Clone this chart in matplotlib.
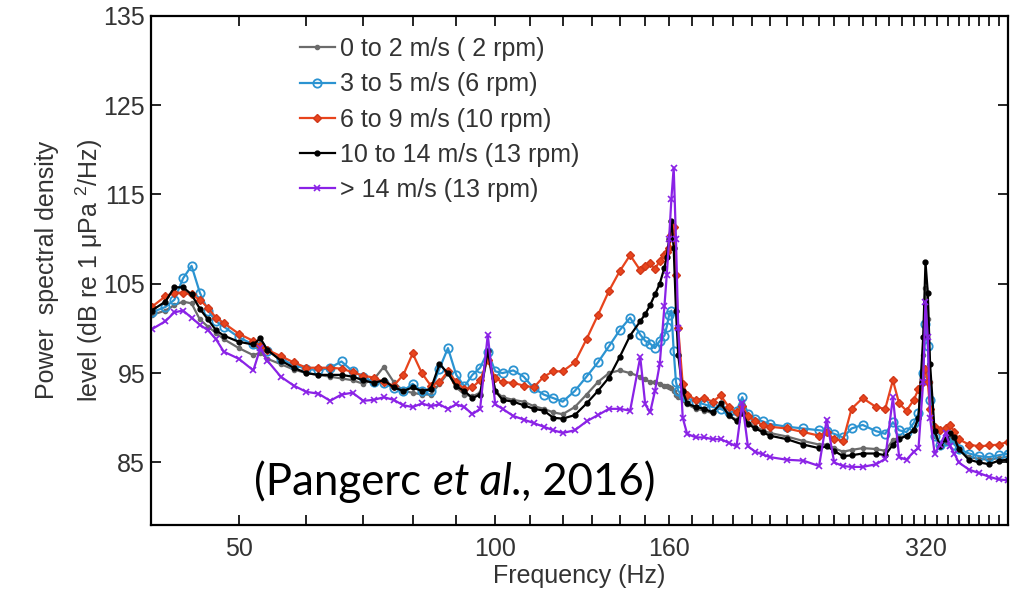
import matplotlib
matplotlib.use("Agg")
import matplotlib.pyplot as plt
from matplotlib.ticker import FixedLocator, FixedFormatter, NullFormatter
from matplotlib.offsetbox import TextArea, HPacker, AnchoredOffsetbox

plt.rcParams['font.family'] = ['Liberation Sans', 'DejaVu Sans']
plt.rcParams['mathtext.fontset'] = 'custom'
plt.rcParams['mathtext.rm'] = 'Liberation Sans'
plt.rcParams['mathtext.it'] = 'Liberation Sans:italic'

# ---------------- data ----------------
freq = [39.5, 41, 42, 43, 44, 45, 46, 47, 48, 50,
        52, 53, 54, 56, 58, 60, 62, 64, 66, 68,
        70, 72, 74, 76, 78, 80, 82, 84, 86, 88,
        90, 92, 94, 96, 98, 100, 102, 105, 108, 111,
        114, 117, 120, 124, 128, 132, 136, 140, 144, 148,
        150, 152, 154, 156, 158, 159, 160, 161, 162, 163,
        164, 166, 168, 172, 176, 180, 184, 188, 192, 195,
        198, 202, 206, 210, 220, 230, 240, 245, 250, 256,
        262, 270, 280, 287, 293, 298, 304, 310, 314, 318,
        320, 322, 324, 328, 333, 338, 342, 346, 350, 360,
        370, 380, 390, 400]

psd_0_2 = [101.5, 102.0, 102.6, 103.0, 102.8, 101.0, 100.2, 99.5, 98.8, 97.8,
           97.0, 97.3, 96.6, 96.0, 95.4, 95.0, 94.8, 94.6, 94.4, 94.2,
           93.8, 94.3, 95.7, 94.0, 93.0, 92.8, 92.6, 92.6, 93.8, 95.0,
           93.4, 92.6, 92.4, 92.8, 97.0, 93.0, 92.3, 92.0, 91.8, 91.3,
           91.0, 90.6, 90.4, 91.2, 92.6, 94.0, 95.0, 95.3, 95.0, 94.6,
           94.3, 94.0, 94.0, 93.8, 93.6, 93.5, 93.4, 93.3, 93.0, 92.6,
           92.3, 92.0, 91.5, 91.0, 90.8, 90.5, 91.2, 90.2, 89.8, 90.6,
           89.4, 89.0, 88.6, 88.3, 87.9, 87.4, 87.0, 87.0, 86.6, 86.2,
           86.4, 86.6, 86.5, 86.3, 87.5, 87.8, 88.0, 88.6, 90.0, 97.0,
           104.5, 101.0, 94.0, 88.0, 86.8, 87.3, 87.8, 87.4, 86.4, 85.6,
           85.4, 85.3, 85.5, 85.6]

psd_3_5 = [101.8, 102.4, 103.2, 105.6, 107.0, 104.0, 102.0, 100.8, 100.2, 99.0,
           98.2, 98.0, 97.5, 96.6, 95.9, 95.5, 95.3, 95.6, 96.3, 95.2,
           94.6, 94.0, 93.9, 93.3, 93.0, 93.8, 93.0, 93.0, 95.5, 97.8,
           94.8, 93.5, 94.8, 95.6, 97.4, 95.2, 95.0, 95.3, 94.6, 93.3,
           92.6, 92.2, 91.8, 93.0, 94.6, 96.2, 98.0, 99.8, 101.2, 99.3,
           98.6, 98.3, 97.8, 98.6, 99.2, 100.2, 101.5, 102.0, 97.5, 94.0,
           93.0, 92.5, 92.2, 91.8, 91.5, 91.2, 91.0, 90.6, 90.8, 92.3,
           90.4, 89.9, 89.6, 89.3, 89.0, 88.8, 88.6, 88.5, 88.2, 87.8,
           88.8, 89.2, 88.5, 88.2, 89.5, 88.6, 88.4, 89.4, 90.5, 95.0,
           100.5, 98.0, 92.0, 88.0, 87.0, 87.4, 87.6, 87.0, 86.5, 86.0,
           85.7, 85.6, 85.8, 86.0]

psd_6_9 = [102.4, 103.6, 104.0, 104.0, 103.8, 103.2, 102.3, 101.2, 100.6, 99.4,
           98.6, 98.0, 97.6, 96.9, 96.2, 95.6, 95.6, 95.6, 95.5, 95.1,
           94.7, 94.5, 94.0, 93.6, 94.8, 97.2, 95.0, 93.6, 94.0, 95.2,
           94.0, 93.2, 93.4, 94.2, 96.5, 94.4, 94.0, 93.9, 93.6, 93.4,
           94.6, 95.2, 95.2, 96.2, 98.8, 101.5, 104.2, 106.4, 108.2, 106.5,
           107.0, 107.3, 106.6, 107.6, 108.2, 108.6, 109.0, 110.5, 111.3, 106.0,
           100.0, 93.8, 92.6, 92.0, 92.2, 91.8, 92.5, 91.2, 90.6, 91.3,
           90.2, 89.6, 89.2, 89.0, 88.8, 88.4, 88.0, 88.4, 87.6, 87.4,
           91.0, 92.2, 91.2, 91.0, 94.2, 91.6, 90.8, 92.0, 93.2, 94.0,
           95.5, 94.0, 91.0, 89.0, 88.6, 88.8, 89.2, 88.4, 87.6, 87.0,
           86.8, 86.9, 87.0, 87.3]

psd_10_14 = [102.0, 103.0, 104.6, 104.6, 103.8, 102.2, 101.0, 99.8, 99.2, 98.5,
             98.2, 98.9, 97.6, 96.4, 95.6, 95.0, 94.8, 94.8, 94.8, 94.6,
             94.2, 93.9, 94.2, 93.4, 93.0, 93.4, 93.0, 93.2, 96.0, 95.0,
             93.5, 93.0, 92.2, 92.6, 97.5, 93.0, 92.0, 91.8, 91.4, 91.0,
             90.8, 90.0, 89.9, 90.3, 91.6, 93.0, 94.5, 96.8, 99.2, 100.8,
             101.6, 102.6, 103.8, 105.0, 106.8, 108.0, 110.0, 112.0, 109.0, 102.0,
             97.0, 93.0, 91.6, 91.2, 91.0, 90.6, 91.6, 90.3, 89.6, 90.5,
             89.3, 88.8, 88.4, 88.0, 87.6, 87.0, 86.6, 86.8, 86.3, 85.7,
             85.8, 86.0, 86.0, 85.8, 87.0, 87.6, 88.0, 88.6, 90.0, 99.0,
             107.4, 104.0, 96.0, 88.5, 86.8, 87.6, 88.3, 87.8, 86.5, 85.3,
             85.0, 84.8, 85.2, 85.3]

psd_14_up = [99.9, 100.8, 101.8, 102.0, 101.2, 100.4, 99.8, 98.8, 97.4, 96.6,
             95.3, 97.8, 96.4, 94.6, 93.6, 92.9, 92.7, 91.9, 92.6, 92.8,
             91.9, 92.0, 92.3, 92.0, 91.4, 91.2, 91.6, 91.3, 91.5, 91.0,
             91.5, 91.2, 90.4, 91.0, 99.3, 91.5, 91.0, 90.2, 89.8, 89.4,
             89.0, 88.6, 88.3, 88.6, 89.6, 90.3, 91.0, 91.0, 90.8, 96.8,
             91.5, 90.6, 93.0, 96.0, 102.5, 106.0, 110.0, 114.5, 118.0, 110.0,
             100.0, 90.0, 88.2, 87.8, 87.8, 87.6, 87.6, 87.2, 86.8, 91.7,
             86.8, 86.2, 85.9, 85.6, 85.3, 85.2, 84.6, 89.8, 85.0, 84.6,
             84.5, 84.5, 84.8, 85.4, 92.3, 85.6, 85.3, 86.2, 86.6, 94.0,
             103.0, 99.0, 90.0, 86.0, 87.0, 88.3, 86.8, 86.0, 85.0, 84.2,
             83.8, 83.4, 83.1, 83.0]

series_labels = ['0 to 2 m/s ( 2 rpm)', '3 to 5 m/s (6 rpm)', '6 to 9 m/s (10 rpm)',
                 '10 to 14 m/s (13 rpm)', '> 14 m/s (13 rpm)']
x_major = [50, 100, 160, 320]
x_major_labels = ['50', '100', '160', '320']
y_ticks = [85, 95, 105, 115, 125, 135]

# ---------------- figure ----------------
fig = plt.figure(figsize=(10.21, 5.92), dpi=100)
ax = fig.add_axes([0.1476, 0.1132, 0.8397, 0.8603])

styles = [
    dict(color='#6b6b6b', marker='.', ms=6),
    dict(color='#2b93d1', marker='o', ms=6, mfc='none', mew=1.3),
    dict(color='#e8441c', marker='D', ms=4.5, mec='#d0381a'),
    dict(color='#000000', marker='.', ms=7),
    dict(color='#8a22e6', marker='x', ms=4.5, mew=1.2),
]
data = [psd_0_2, psd_3_5, psd_6_9, psd_10_14, psd_14_up]
for vals, lab, st in zip(data, series_labels, styles):
    ax.plot(freq, vals, lw=1.6, label=lab, **st)

ax.set_xscale('log')
ax.set_xlim(39.4, 400)
ax.set_ylim(78, 135)

ax.xaxis.set_major_locator(FixedLocator(x_major))
ax.xaxis.set_major_formatter(FixedFormatter(x_major_labels))
ax.xaxis.set_minor_locator(FixedLocator([f for f in range(50, 400, 10) if f not in x_major]))
ax.xaxis.set_minor_formatter(NullFormatter())
ax.set_yticks(y_ticks)
ax.yaxis.set_minor_locator(FixedLocator([]))

ax.tick_params(axis='both', which='both', direction='in', top=True, right=True,
               length=7, width=1.2, labelsize=18, labelcolor='#333333')
ax.tick_params(axis='x', which='both', pad=9)
ax.tick_params(axis='y', which='both', pad=4)
for sp in ax.spines.values():
    sp.set_linewidth(1.6)

ax.set_xlabel('Frequency (Hz)', fontsize=18, color='#333333', labelpad=2)
ax.set_ylabel('Power  spectral density\nlevel (dB re 1 \u03bcPa $^{2}$/Hz)',
              fontsize=18, color='#333333', linespacing=1.6, ha='center')
ax.yaxis.set_label_coords(-0.053, 0.5)

leg = ax.legend(loc='upper left', bbox_to_anchor=(0.174, 0.958), frameon=False,
                fontsize=18, handlelength=1.4, handletextpad=0.2, labelspacing=0.45,
                borderpad=0, borderaxespad=0, numpoints=1)
for t in leg.get_texts():
    t.set_color('#333333')

# citation text with italic part
tp = dict(fontsize=31.5, family='Lato', color='black')
tpi = dict(fontsize=31.5, family='Lato', style='italic', color='black')
box = HPacker(children=[TextArea('(Pangerc ', textprops=tp),
                        TextArea('et al', textprops=tpi),
                        TextArea('., 2016)', textprops=tp)],
              align='baseline', pad=0, sep=0)
anch = AnchoredOffsetbox(loc='center', child=box, pad=0, borderpad=0, frameon=False,
                         bbox_to_anchor=(0.4457, 0.186), bbox_transform=fig.transFigure)
fig.add_artist(anch)

fig.savefig('out.png', dpi=100, facecolor='white')
